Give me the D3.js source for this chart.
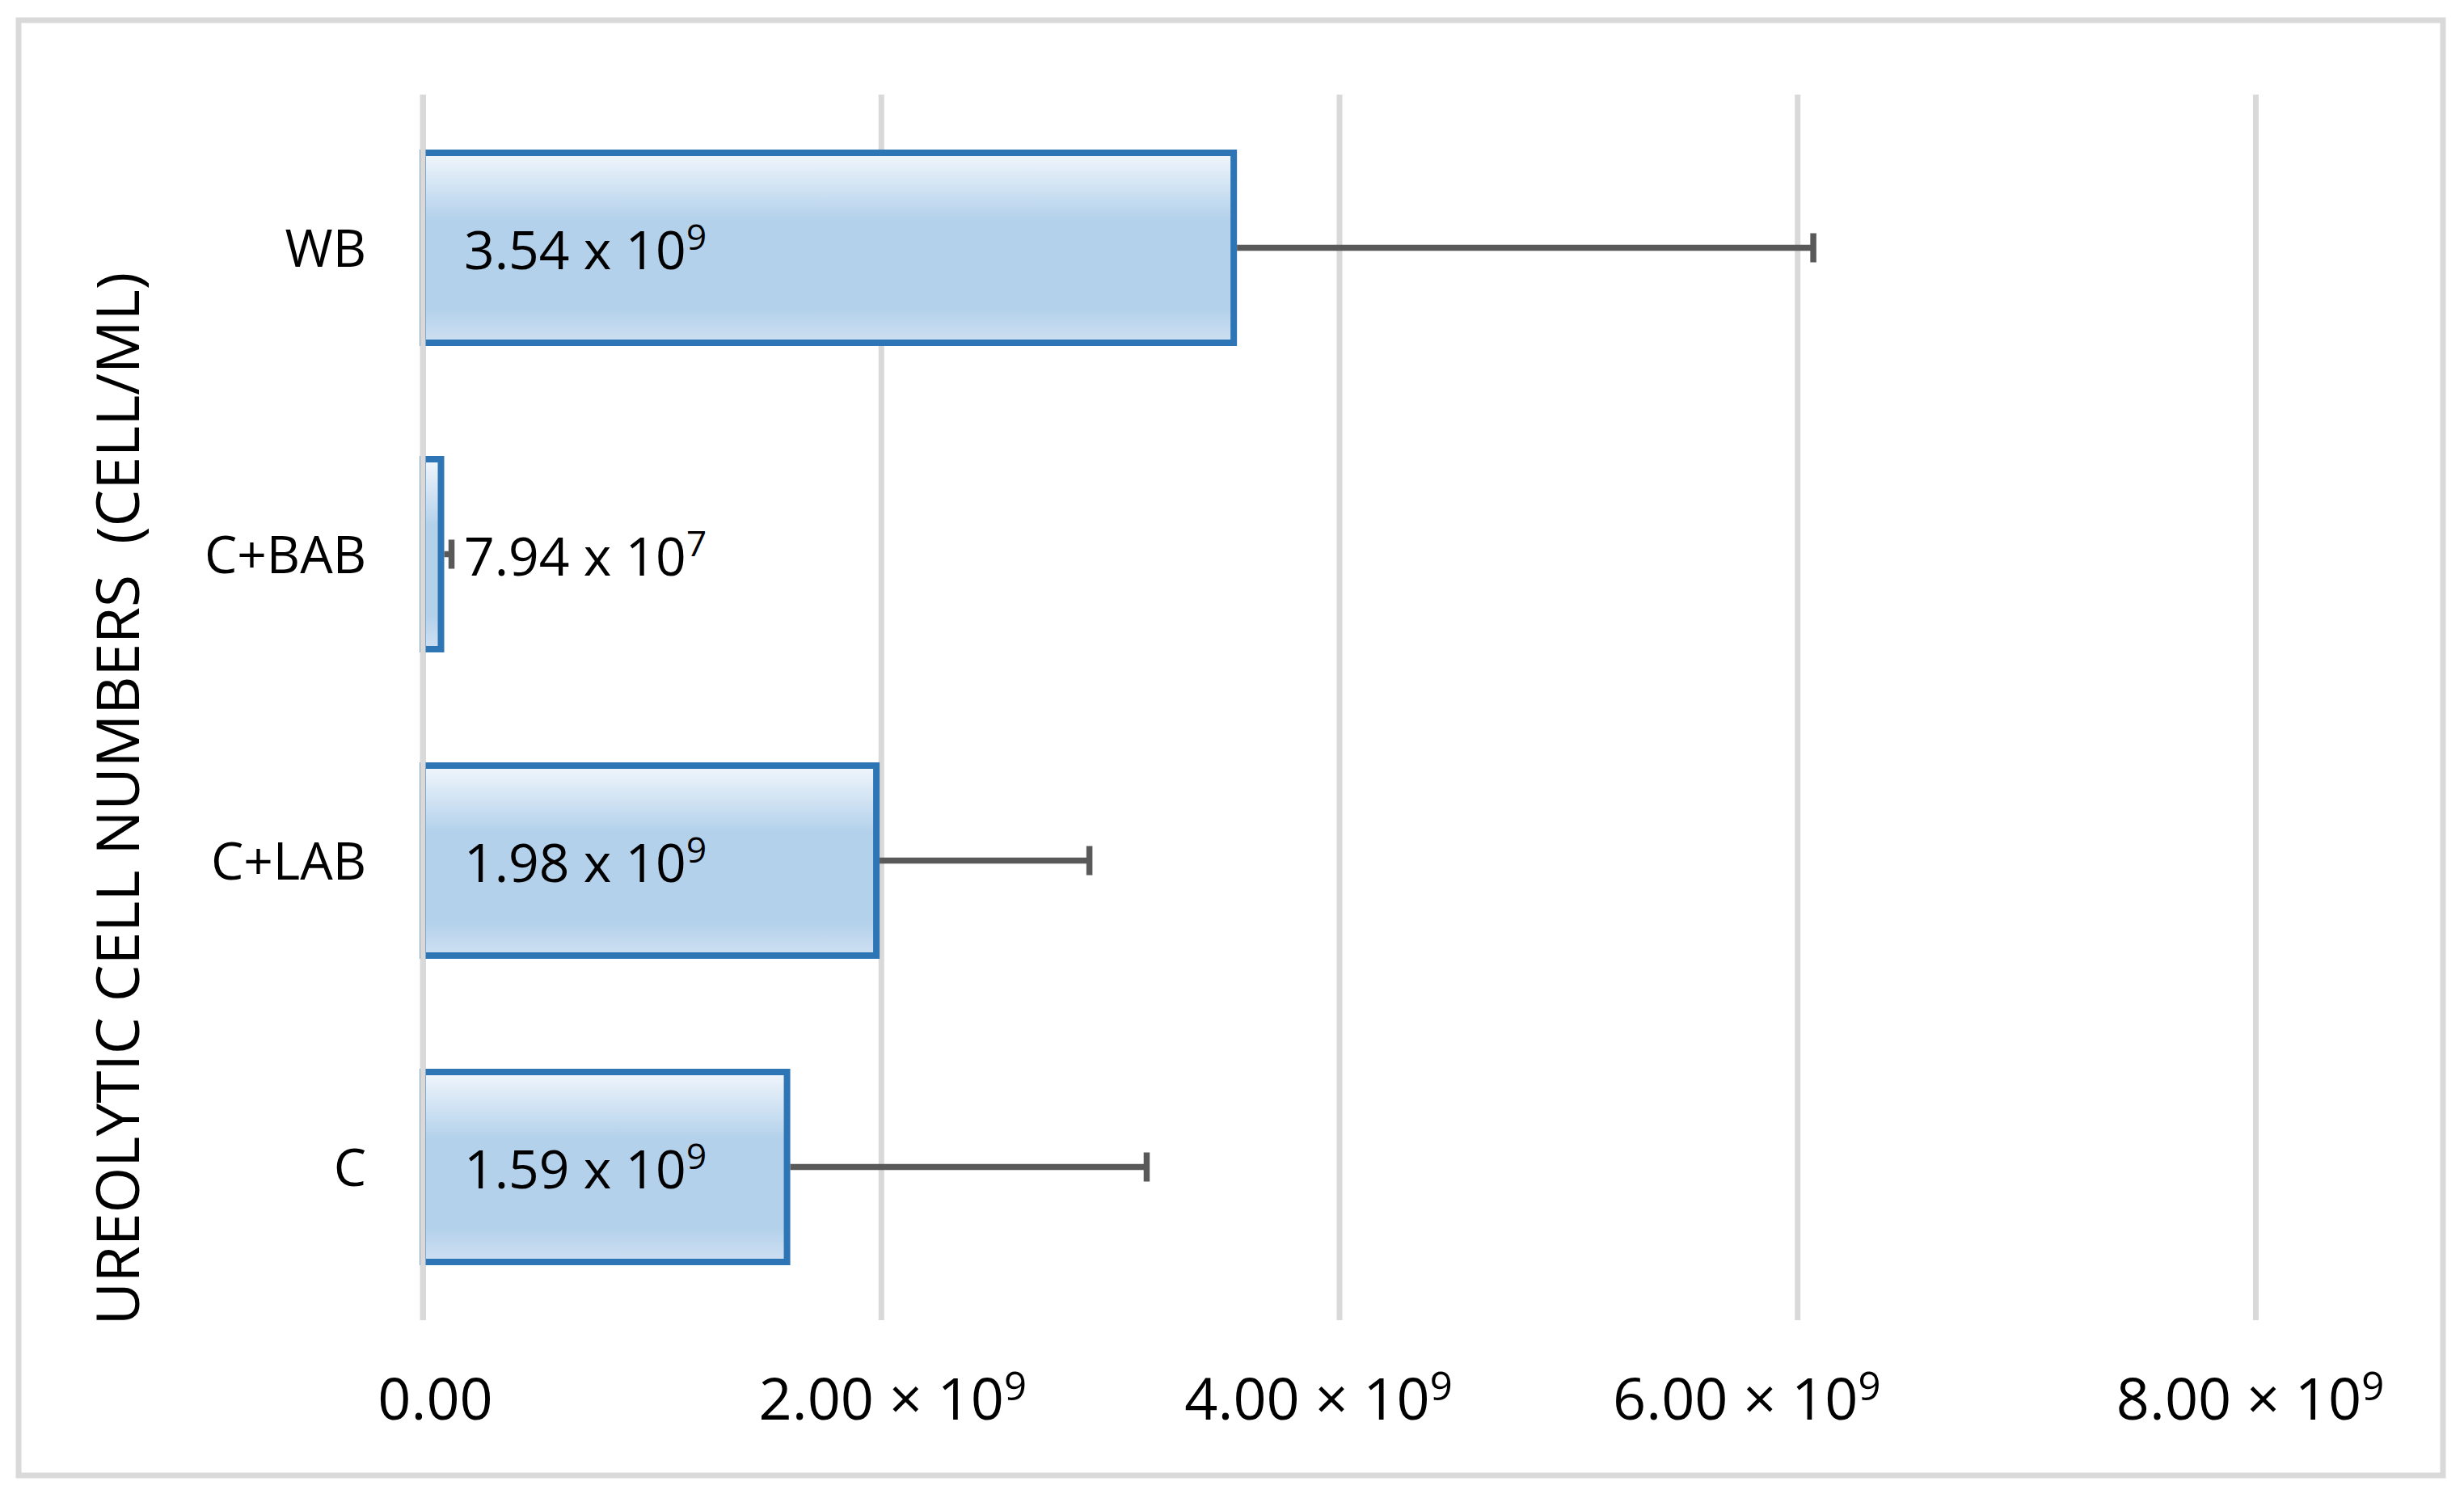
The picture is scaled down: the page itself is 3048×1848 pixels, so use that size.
<!DOCTYPE html>
<html>
<head>
<meta charset="utf-8">
<script src="https://cdn.jsdelivr.net/npm/d3@7"></script>
<style>
  html, body { margin: 0; padding: 0; background: #ffffff; }
  svg { display: block; }
  text { font-family: "Open Sans", "Liberation Sans", sans-serif; fill: #000; }
</style>
</head>
<body>
<svg id="chart" width="3048" height="1848"></svg>
<script>
// ---- data ----
const categories = ["WB", "C+BAB", "C+LAB", "C"];
const values = [3.54e9, 7.94e7, 1.98e9, 1.59e9];
const errors = [2.53e9, 4.6e7, 0.93e9, 1.57e9];
const labelMantissa = ["3.54", "7.94", "1.98", "1.59"];
const labelExponent = ["9", "7", "9", "9"];
const tickValues = [0, 2e9, 4e9, 6e9, 8e9];
const tickMantissa = ["0.00", "2.00", "4.00", "6.00", "8.00"];
const tickExponent = ["", "9", "9", "9", "9"];
const yTitle = "UREOLYTIC CELL NUMBERS  (CELL/ML)";

// ---- layout ----
const W = 3048, H = 1848;
const plot = { left: 523, right: 2790, top: 117, bottom: 1633 };
const tickNudge = [15, 14, -26, -63, -7];

const svg = d3.select("#chart");

// gradient
const defs = svg.append("defs");
const grad = defs.append("linearGradient").attr("id", "barGrad")
  .attr("x1", 0).attr("y1", 0).attr("x2", 0).attr("y2", 1);
[["0%", "#f1f6fc"], ["35%", "#b3d1eb"], ["82%", "#b3d1eb"], ["100%", "#cfe0f2"]]
  .forEach(([o, c]) => grad.append("stop").attr("offset", o).attr("stop-color", c));

// outer border
svg.append("rect")
  .attr("x", 23).attr("y", 25).attr("width", 3022 - 23).attr("height", 1825 - 25)
  .attr("fill", "#ffffff").attr("stroke", "#d9d9d9").attr("stroke-width", 7);

const x = d3.scaleLinear().domain([0, 8e9]).range([plot.left, plot.right]);
const y = d3.scaleBand().domain(categories).range([plot.top, plot.bottom])
  .paddingInner(0.38).paddingOuter(0.19);

// gridlines (axis with long inner ticks)
const gridAxis = d3.axisBottom(x).tickValues(tickValues)
  .tickSizeInner(-(plot.bottom - plot.top)).tickSizeOuter(0).tickFormat("");
const gridG = svg.append("g").attr("transform", `translate(0,${plot.bottom})`).call(gridAxis);
gridG.select(".domain").remove();
gridG.selectAll(".tick line").attr("stroke", "#d9d9d9").attr("stroke-width", 7);

// bars
svg.append("g").selectAll("rect").data(categories).join("rect")
  .attr("x", x(0))
  .attr("y", d => y(d))
  .attr("width", (d, i) => x(values[i]) - x(0))
  .attr("height", y.bandwidth())
  .attr("fill", "url(#barGrad)")
  .attr("stroke", "#2e75b6").attr("stroke-width", 8);

// zero gridline over bar left edges
svg.append("line")
  .attr("x1", x(0)).attr("x2", x(0)).attr("y1", plot.top).attr("y2", plot.bottom)
  .attr("stroke", "#d9d9d9").attr("stroke-width", 7);

// error bars
const eg = svg.append("g").attr("stroke", "#595959");
categories.forEach((c, i) => {
  const cy = y(c) + y.bandwidth() / 2;
  const x0 = x(values[i]) + 4;
  const x1 = x(values[i] + errors[i]);
  eg.append("line").attr("x1", x0).attr("x2", x1).attr("y1", cy).attr("y2", cy)
    .attr("stroke-width", 7.5);
  eg.append("line").attr("x1", x1).attr("x2", x1).attr("y1", cy - 18).attr("y2", cy + 18)
    .attr("stroke-width", 7.5);
});

// value labels
const vl = svg.append("g").selectAll("text").data(categories).join("text")
  .attr("x", x(0) + 51)
  .attr("y", d => y(d) + y.bandwidth() / 2 + 26)
  .style("font-size", "66px");
vl.append("tspan").text((d, i) => labelMantissa[i] + " x 10");
vl.append("tspan").attr("dy", -24).style("font-size", "44px")
  .text((d, i) => labelExponent[i]);

// category axis
const yAxis = d3.axisLeft(y).tickSize(0).tickPadding(70);
const yG = svg.append("g").attr("transform", `translate(${plot.left},0)`).call(yAxis);
yG.select(".domain").remove();
yG.selectAll(".tick text")
  .attr("dy", 23)
  .style("font-size", "64px")
  .style("font-family", "'Open Sans', 'Liberation Sans', sans-serif")
  .attr("fill", "#000");

// x tick labels
const xAxis = d3.axisBottom(x).tickValues(tickValues).tickSize(0).tickFormat("");
const xG = svg.append("g").attr("transform", `translate(0,${plot.bottom})`).call(xAxis);
xG.select(".domain").remove();
xG.selectAll(".tick").each(function (v, i) {
  const t = d3.select(this).select("text")
    .attr("x", tickNudge[i]).attr("y", 1756 - plot.bottom).attr("dy", null)
    .attr("text-anchor", "middle")
    .style("font-size", "72px")
    .style("font-family", "'Open Sans', 'Liberation Sans', sans-serif")
    .attr("fill", "#000");
  if (tickExponent[i]) {
    t.append("tspan").text(tickMantissa[i] + " \u00d7 10");
    t.append("tspan").attr("dy", -24).style("font-size", "49px").text(tickExponent[i]);
  } else {
    t.append("tspan").text(tickMantissa[i]);
  }
});

// y title
svg.append("text")
  .attr("transform", `translate(172,988) rotate(-90)`)
  .attr("text-anchor", "middle")
  .style("font-size", "73px")
  .style("white-space", "pre")
  .text(yTitle);
</script>
</body>
</html>
